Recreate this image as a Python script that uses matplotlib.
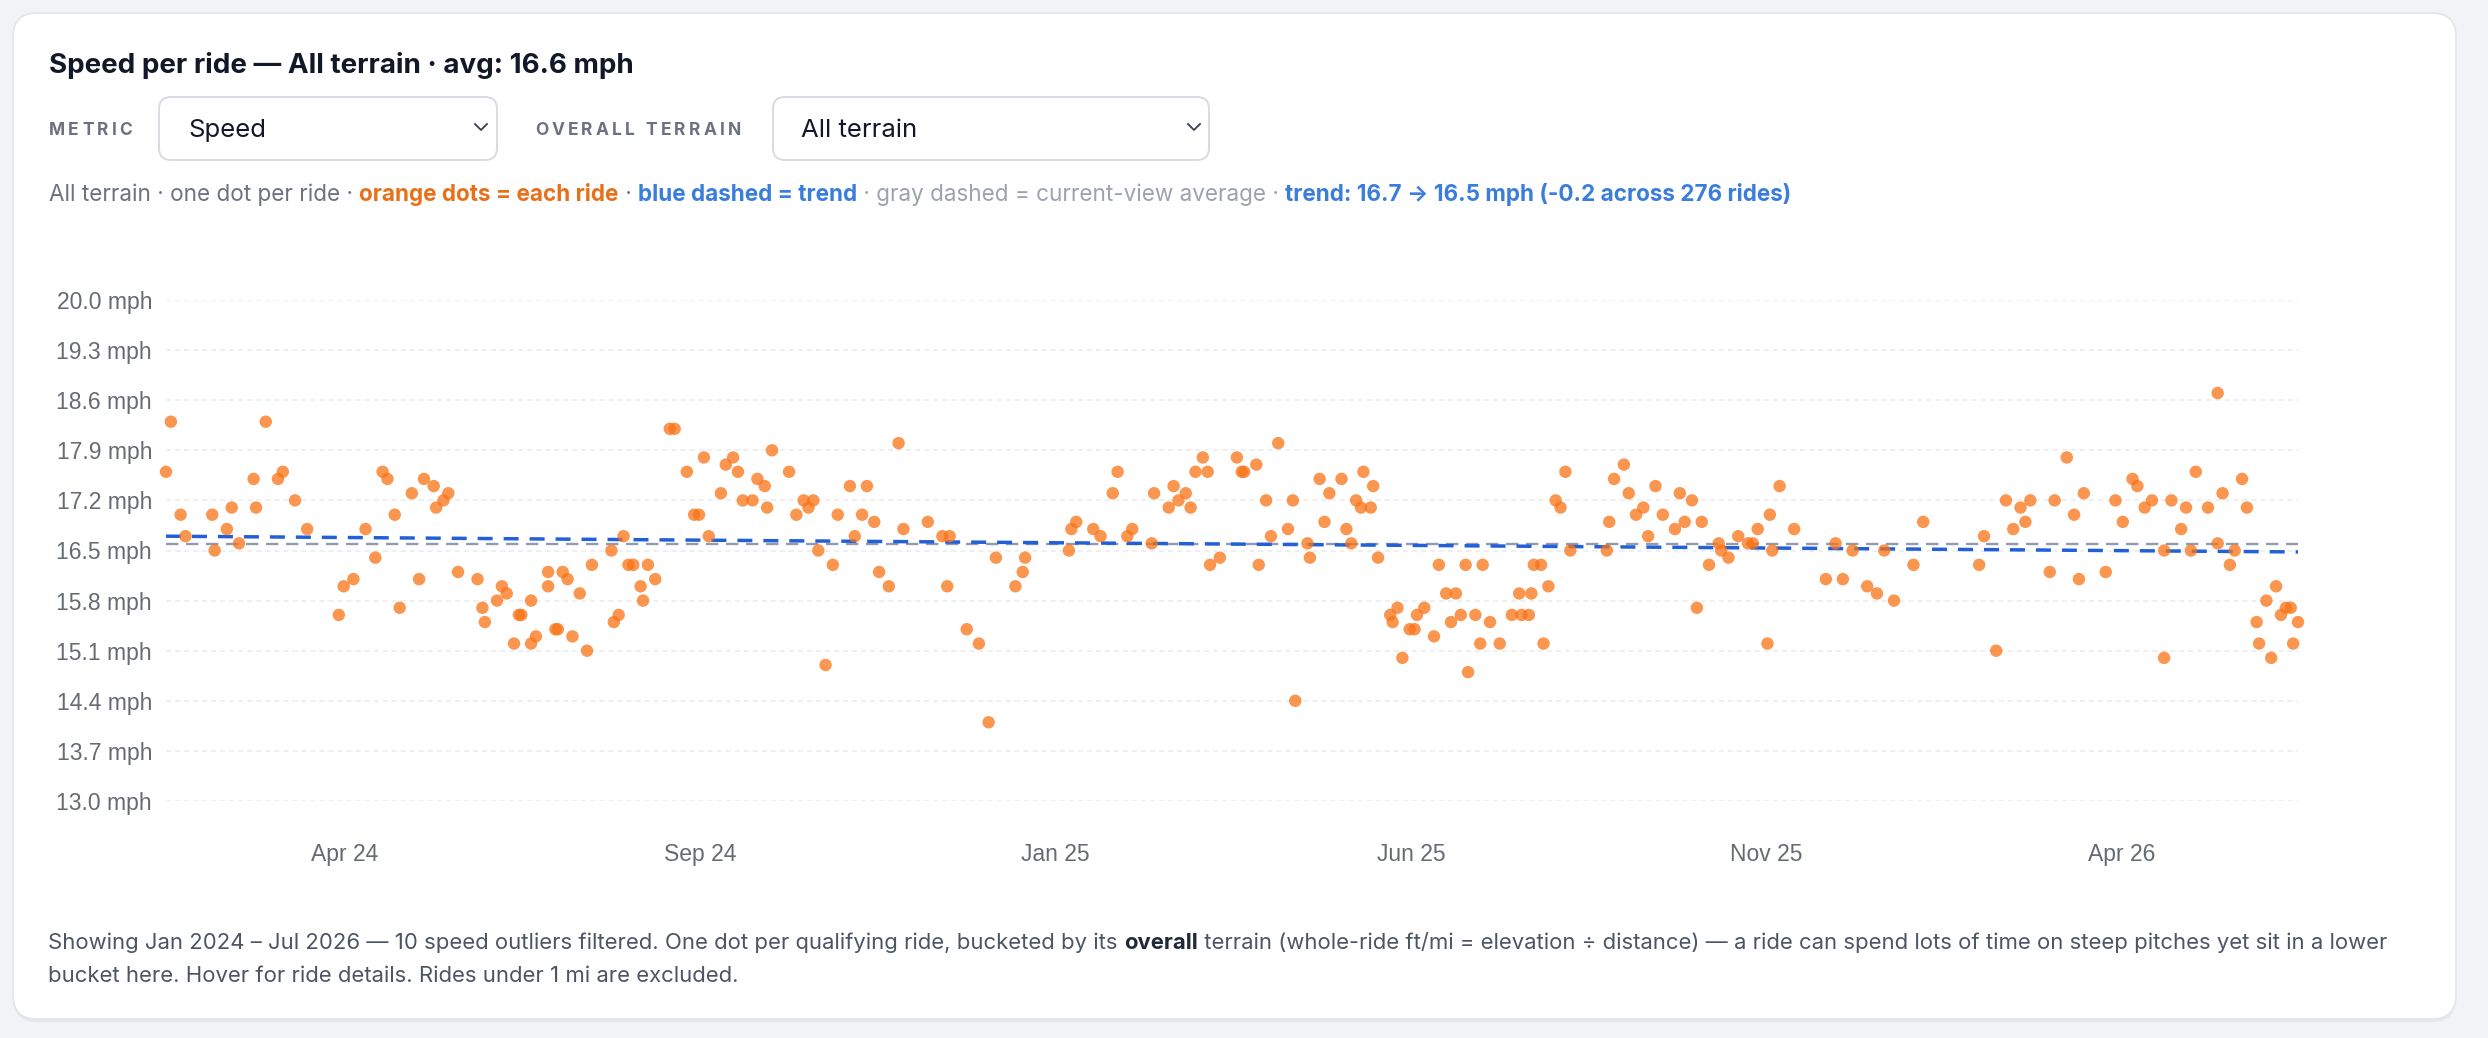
import numpy as np
import matplotlib
matplotlib.use("Agg")
import matplotlib.pyplot as plt
from matplotlib.patches import FancyBboxPatch
from matplotlib.transforms import Affine2D
from matplotlib.lines import Line2D

plt.rcParams['lines.scale_dashes'] = False

# ---------------- data ----------------
# ride date as days since 2024-01-01
ride_day = [18, 20, 24, 26, 37, 38, 43, 45, 48, 54, 55, 59, 64, 66, 71, 76, 89, 91, 95, 100,
            104, 107, 109, 112, 114, 119, 122, 124, 128, 129, 132, 134, 138, 146, 148, 149, 154, 156, 158, 161,
            163, 164, 168, 168, 170, 175, 175, 178, 179, 181, 183, 185, 188, 191, 193, 201, 202, 204, 206, 208,
            210, 213, 214, 216, 219, 225, 227, 232, 235, 237, 239, 241, 246, 248, 251, 253, 255, 259, 261, 264,
            265, 267, 274, 277, 280, 282, 284, 286, 289, 292, 294, 299, 301, 304, 306, 309, 311, 315, 319, 321,
            331, 337, 339, 340, 347, 352, 356, 359, 367, 370, 371, 389, 390, 392, 399, 402, 407, 409, 413, 415,
            423, 424, 430, 432, 434, 437, 439, 441, 444, 446, 447, 451, 458, 460, 461, 466, 467, 470, 472, 475,
            479, 481, 482, 487, 488, 492, 494, 496, 501, 503, 505, 507, 509, 510, 513, 514, 516, 521, 522, 524,
            526, 529, 531, 532, 535, 539, 541, 544, 546, 548, 550, 552, 553, 556, 558, 559, 562, 566, 571, 574,
            575, 578, 579, 580, 583, 584, 586, 589, 591, 593, 595, 610, 611, 613, 617, 619, 622, 625, 627, 630,
            633, 638, 640, 642, 645, 647, 649, 652, 656, 657, 660, 664, 668, 670, 672, 676, 677, 678, 681, 687,
            700, 704, 707, 711, 717, 721, 724, 728, 736, 740, 763, 765, 770, 774, 777, 780, 782, 784, 792, 794,
            799, 802, 804, 806, 815, 819, 822, 826, 828, 831, 834, 839, 839, 842, 846, 848, 850, 852, 857, 861,
            861, 863, 866, 868, 871, 873, 877, 878, 881, 883, 885, 887, 889, 891, 892, 894]
ride_mph = [17.6, 18.3, 17.0, 16.7, 17.0, 16.5, 16.8, 17.1, 16.6, 17.5, 17.1, 18.3, 17.5, 17.6, 17.2, 16.8, 15.6, 16.0, 16.1, 16.8,
            16.4, 17.6, 17.5, 17.0, 15.7, 17.3, 16.1, 17.5, 17.4, 17.1, 17.2, 17.3, 16.2, 16.1, 15.7, 15.5, 15.8, 16.0, 15.9, 15.2,
            15.6, 15.6, 15.2, 15.8, 15.3, 16.0, 16.2, 15.4, 15.4, 16.2, 16.1, 15.3, 15.9, 15.1, 16.3, 16.5, 15.5, 15.6, 16.7, 16.3,
            16.3, 16.0, 15.8, 16.3, 16.1, 18.2, 18.2, 17.6, 17.0, 17.0, 17.8, 16.7, 17.3, 17.7, 17.8, 17.6, 17.2, 17.2, 17.5, 17.4,
            17.1, 17.9, 17.6, 17.0, 17.2, 17.1, 17.2, 16.5, 14.9, 16.3, 17.0, 17.4, 16.7, 17.0, 17.4, 16.9, 16.2, 16.0, 18.0, 16.8,
            16.9, 16.7, 16.0, 16.7, 15.4, 15.2, 14.1, 16.4, 16.0, 16.2, 16.4, 16.5, 16.8, 16.9, 16.8, 16.7, 17.3, 17.6, 16.7, 16.8,
            16.6, 17.3, 17.1, 17.4, 17.2, 17.3, 17.1, 17.6, 17.8, 17.6, 16.3, 16.4, 17.8, 17.6, 17.6, 17.7, 16.3, 17.2, 16.7, 18.0,
            16.8, 17.2, 14.4, 16.6, 16.4, 17.5, 16.9, 17.3, 17.5, 16.8, 16.6, 17.2, 17.1, 17.6, 17.1, 17.4, 16.4, 15.6, 15.5, 15.7,
            15.0, 15.4, 15.4, 15.6, 15.7, 15.3, 16.3, 15.9, 15.5, 15.9, 15.6, 16.3, 14.8, 15.6, 15.2, 16.3, 15.5, 15.2, 15.6, 15.9,
            15.6, 15.6, 15.9, 16.3, 16.3, 15.2, 16.0, 17.2, 17.1, 17.6, 16.5, 16.5, 16.9, 17.5, 17.7, 17.3, 17.0, 17.1, 16.7, 17.4,
            17.0, 16.8, 17.3, 16.9, 17.2, 15.7, 16.9, 16.3, 16.6, 16.5, 16.4, 16.7, 16.6, 16.6, 16.8, 15.2, 17.0, 16.5, 17.4, 16.8,
            16.1, 16.6, 16.1, 16.5, 16.0, 15.9, 16.5, 15.8, 16.3, 16.9, 16.3, 16.7, 15.1, 17.2, 16.8, 17.1, 16.9, 17.2, 16.2, 17.2,
            17.8, 17.0, 16.1, 17.3, 16.2, 17.2, 16.9, 17.5, 17.4, 17.1, 17.2, 16.5, 15.0, 17.2, 16.8, 17.1, 16.5, 17.6, 17.1, 18.7,
            16.6, 17.3, 16.3, 16.5, 17.5, 17.1, 15.5, 15.2, 15.8, 15.0, 16.0, 15.6, 15.7, 15.7, 15.2, 15.5]

x_tick_day = [91.5, 237.5, 383.5, 529.5, 675.5, 821.5]
x_tick_labels = ["Apr 24", "Sep 24", "Jan 25", "Jun 25", "Nov 25", "Apr 26"]
y_tick_values = [13.0, 13.7, 14.4, 15.1, 15.8, 16.5, 17.2, 17.9, 18.6, 19.3, 20.0]
avg_mph = 16.59
trend_mph = [16.70, 16.48]   # trend line value at first and last ride

title_text = "Speed per ride \u2014 All terrain \u00b7 avg: 16.6 mph"
metric_value = "Speed"
terrain_value = "All terrain"

# ---------------- figure ----------------
W, H = 2488, 1038
fig = plt.figure(figsize=(W / 100, H / 100), dpi=100, facecolor='#f1f3f6')
tp = Affine2D().scale(1 / W, -1 / H).translate(0, 1) + fig.transFigure
UI = ['Inter', 'DejaVu Sans']
r = fig.canvas.get_renderer()

# card
fig.add_artist(FancyBboxPatch((13, 15), 2443, 1007, boxstyle='round,pad=0,rounding_size=24',
                              transform=tp, fc='#e4e7eb', ec='none', zorder=-3))
fig.add_artist(FancyBboxPatch((13, 13), 2443, 1006, boxstyle='round,pad=0,rounding_size=24',
                              transform=tp, fc='white', ec='#e2e5e9', lw=1.2, zorder=-2))


def twidth(s, size, weight):
    t1 = fig.text(0, 0, "x" + s + "x", fontsize=size, fontweight=weight, family=UI)
    t2 = fig.text(0, 0, "xx", fontsize=size, fontweight=weight, family=UI)
    w = t1.get_window_extent(renderer=r).width - t2.get_window_extent(renderer=r).width
    t1.remove()
    t2.remove()
    return w


def runs(x, y, parts, size):
    for s, color, weight in parts:
        fig.text(x, y, s, transform=tp, fontsize=size, color=color, fontweight=weight,
                 family=UI, va='baseline', ha='left', zorder=3)
        x += twidth(s, size, weight)


def tracked(x, y, s, size, color, track):
    for ch in s:
        if ch != ' ':
            fig.text(x, y, ch, transform=tp, fontsize=size, color=color, fontweight='bold',
                     family=UI, va='baseline', ha='left', zorder=3)
        x += twidth(ch, size, 'bold') + track


# title
fig.text(49, 73, title_text, transform=tp, fontsize=20, fontweight='bold', color='#111827',
         family=UI, va='baseline', ha='left')

# controls
tracked(49, 135, "METRIC", 12.5, '#6b7280', 3.2)
tracked(535, 135, "OVERALL TERRAIN", 12.5, '#6b7280', 3.2)
for (x0, w) in [(159, 338), (773, 436)]:
    fig.add_artist(FancyBboxPatch((x0, 97), w, 63, boxstyle='round,pad=0,rounding_size=12',
                                  transform=tp, fc='white', ec='#d6dae0', lw=1.3, zorder=1))
fig.text(188, 137, metric_value, transform=tp, fontsize=18.5, color='#111827', family=UI,
         va='baseline', ha='left', zorder=3)
fig.text(801, 137, terrain_value, transform=tp, fontsize=18.5, color='#111827', family=UI,
         va='baseline', ha='left', zorder=3)
for cx in [481, 1194]:
    fig.add_artist(Line2D([cx - 6, cx, cx + 6], [124, 130, 124], transform=tp, color='#374151',
                          lw=1.3, zorder=3))

# legend / subtitle line
runs(49, 201, [
    ("All terrain \u00b7 one dot per ride \u00b7 ", '#6b7280', 'normal'),
    ("orange dots = each ride", '#e8701a', 'bold'),
    (" \u00b7 ", '#6b7280', 'normal'),
    ("blue dashed = trend", '#3b7ddd', 'bold'),
    (" \u00b7 gray dashed = current-view average \u00b7 ", '#9ca3af', 'normal'),
    ("trend: 16.7 \u2192 16.5 mph (-0.2 across 276 rides)", '#3b7ddd', 'bold'),
], 16.2)

# footer
runs(48, 949, [
    ("Showing Jan 2024 \u2013 Jul 2026 \u2014 10 speed outliers filtered. One dot per qualifying ride, bucketed by its ",
     '#4b5563', 'normal'),
    ("overall", '#1f2937', 'bold'),
    (" terrain (whole-ride ft/mi = elevation \u00f7 distance) \u2014 a ride can spend lots of time on steep pitches yet sit in a lower",
     '#4b5563', 'normal'),
], 15.9)
runs(48, 982, [("bucket here. Hover for ride details. Rides under 1 mi are excluded.", '#4b5563', 'normal')], 15.9)

# ---------------- chart ----------------
ax = fig.add_axes([166 / W, 1 - 801 / H, (2298 - 166) / W, (801 - 300) / H])
ax.set_zorder(1)
ax.patch.set_visible(False)
for s in ax.spines.values():
    s.set_visible(False)
ax.set_xlim(ride_day[0], ride_day[-1])
ax.set_ylim(13.0, 20.0)
ax.set_yticks(y_tick_values)
ax.set_yticklabels([f"{v:.1f} mph" for v in y_tick_values])
ax.set_xticks(x_tick_day)
ax.set_xticklabels(x_tick_labels)
ax.tick_params(length=0, labelsize=16.5, labelcolor='#666b73')
ax.tick_params(axis='y', pad=10)
ax.tick_params(axis='x', pad=30)
for lab in ax.get_xticklabels() + ax.get_yticklabels():
    lab.set_family(['Liberation Sans', 'DejaVu Sans'])
ax.yaxis.grid(True, color='#e9ebee', lw=1.1, linestyle=(0, (3.6, 2.9)))
ax.set_axisbelow(True)

ax.axhline(avg_mph, color='#8e9bb0', lw=1.7, linestyle=(0, (8.9, 5.5)), zorder=2)
ax.plot([ride_day[0], ride_day[-1]], trend_mph, color='#2360d8', lw=2.5,
        linestyle=(0, (10.8, 7.9)), zorder=2.1)
ax.scatter(ride_day, ride_mph, s=80, c='#f97316', alpha=0.75, edgecolors='none',
           zorder=3, clip_on=False)

fig.savefig("out.png", dpi=100, facecolor=fig.get_facecolor())
